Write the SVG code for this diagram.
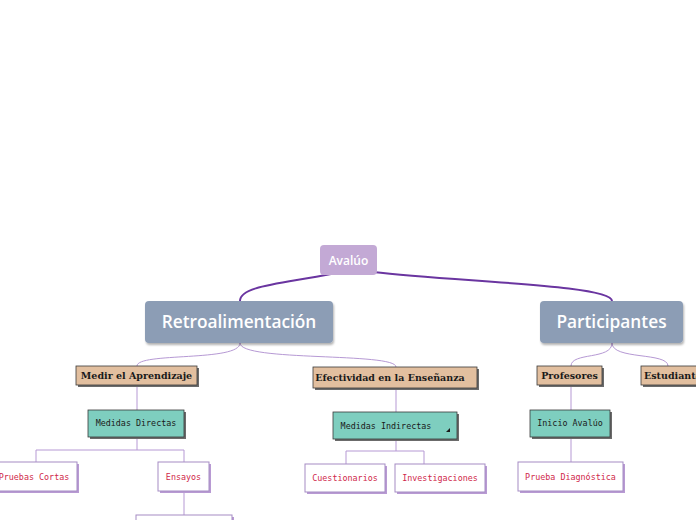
<svg xmlns="http://www.w3.org/2000/svg" width="696" height="520" viewBox="0 0 696 520">
<defs>
<style>
.main{fill:#c3a9d5}
.sub{fill:#8c9db5}
.tan{fill:#e2bf9f;stroke:#3a3a3a;stroke-width:0.8}
.teal{fill:#7ecebf;stroke:#3a3a3a;stroke-width:0.8}
.wh{fill:#ffffff;stroke:#a58cc4;stroke-width:1}
.sh{fill:#6b6b6b}
.shp{fill:#b89ad3}
.sf{font-family:"Open Sans","Noto Sans",sans-serif;font-weight:600;fill:#ffffff;text-anchor:middle}
.tt{font-family:"DejaVu Serif","Liberation Serif",serif;font-weight:bold;font-size:9.5px;fill:#1a1a1a;text-anchor:middle}
.mt{font-family:"DejaVu Sans Mono","Liberation Mono",monospace;font-size:8.4px;fill:#1a1a1a;text-anchor:middle}
.rt{font-family:"DejaVu Sans Mono","Liberation Mono",monospace;font-size:8.4px;fill:#d0284a;text-anchor:middle}
.thick{fill:none;stroke:#6a35a0;stroke-width:2}
.thin{fill:none;stroke:#b699d4;stroke-width:1}
</style>
<filter id="ds" x="-10%" y="-10%" width="130%" height="150%"><feDropShadow dx="1" dy="2" stdDeviation="1.2" flood-color="#000" flood-opacity="0.3"/></filter>
</defs>
<rect width="696" height="520" fill="#ffffff"/>
<g id="connectors">
<path class="thick" d="M331,274 C280,284 240,286 240,301"/>
<path class="thick" d="M373,272 C460,282 612,285 612,301"/>
<path class="thin" d="M240,343 C240,362 137,352 137,366"/>
<path class="thin" d="M240,343 C240,362 396,352 396,367"/>
<path class="thin" d="M612,343 C612,360 571,352 571,366"/>
<path class="thin" d="M612,343 C612,360 668,352 668,366"/>
<path class="thin" d="M137,386 V410"/>
<path class="thin" d="M396,389 V412"/>
<path class="thin" d="M571,386 V410"/>
<path class="thin" d="M137,438 V450 M36,462 V450 H184 V462"/>
<path class="thin" d="M184,491 V515"/>
<path class="thin" d="M396,440 V451 M346,464 V451 H424 V464"/>
<path class="thin" d="M571,438 V462"/>
</g>
<g id="avaluo">
<rect class="main" x="320" y="245" width="57" height="30" rx="4"/>
<text class="sf" x="348.5" y="265" font-size="12">Avalúo</text>
</g>
<g id="retro">
<rect class="sub" x="145" y="301" width="188" height="42" rx="4" filter="url(#ds)"/>
<text class="sf" x="239" y="328" font-size="17.3">Retroalimentación</text>
</g>
<g id="participantes">
<rect class="sub" x="540" y="301" width="143" height="42" rx="4" filter="url(#ds)"/>
<text class="sf" x="611.5" y="328" font-size="17.3">Participantes</text>
</g>
<g id="medir">
<rect class="sh" x="78" y="368" width="121" height="19"/>
<rect class="tan" x="76" y="366" width="121" height="19"/>
<text class="tt" x="136.5" y="379">Medir el Aprendizaje</text>
</g>
<g id="efectividad">
<rect class="sh" x="315" y="369" width="164" height="21"/>
<rect class="tan" x="313" y="367" width="164" height="21"/>
<text class="tt" x="390" y="381">Efectividad en la Enseñanza</text>
</g>
<g id="profesores">
<rect class="sh" x="539" y="368" width="65" height="19"/>
<rect class="tan" x="537" y="366" width="65" height="19"/>
<text class="tt" x="569.5" y="379">Profesores</text>
</g>
<g id="estudiantes">
<rect class="sh" x="643" y="368" width="70" height="19"/>
<rect class="tan" x="641" y="366" width="70" height="19"/>
<text class="tt" x="644" y="379" style="text-anchor:start">Estudiantes</text>
</g>
<g id="directas">
<rect class="sh" x="90" y="412" width="96" height="27"/>
<rect class="teal" x="88" y="410" width="96" height="27"/>
<text class="mt" x="136" y="426">Medidas Directas</text>
</g>
<g id="indirectas">
<rect class="sh" x="335" y="414" width="124" height="27"/>
<rect class="teal" x="333" y="412" width="124" height="27"/>
<text class="mt" x="386" y="429">Medidas Indirectas</text>
<path d="M450,428 L450,432 L446,432 Z" fill="#1a1a1a"/>
</g>
<g id="inicio">
<rect class="sh" x="532" y="412" width="80" height="27"/>
<rect class="teal" x="530" y="410" width="80" height="27"/>
<text class="mt" x="570" y="426">Inicio Avalúo</text>
</g>
<g id="pruebas">
<rect class="shp" x="-4" y="464" width="83" height="29"/>
<rect class="wh" x="-6" y="462" width="83" height="29"/>
<text class="rt" x="34" y="480">Pruebas Cortas</text>
</g>
<g id="ensayos">
<rect class="shp" x="160" y="464" width="51" height="29"/>
<rect class="wh" x="158" y="462" width="51" height="29"/>
<text class="rt" x="183.5" y="480">Ensayos</text>
</g>
<g id="ensayos-child">
<rect class="shp" x="138" y="517" width="96" height="29"/>
<rect class="wh" x="136" y="515" width="96" height="29"/>
</g>
<g id="cuestionarios">
<rect class="shp" x="307" y="466" width="80" height="28"/>
<rect class="wh" x="305" y="464" width="80" height="28"/>
<text class="rt" x="345" y="481">Cuestionarios</text>
</g>
<g id="investigaciones">
<rect class="shp" x="397" y="466" width="90" height="28"/>
<rect class="wh" x="395" y="464" width="90" height="28"/>
<text class="rt" x="440" y="481">Investigaciones</text>
</g>
<g id="diagnostica">
<rect class="shp" x="518" y="464" width="105" height="29" transform="translate(2,0)"/>
<rect class="wh" x="518" y="462" width="105" height="29"/>
<text class="rt" x="570.5" y="480">Prueba Diagnóstica</text>
</g>
</svg>
